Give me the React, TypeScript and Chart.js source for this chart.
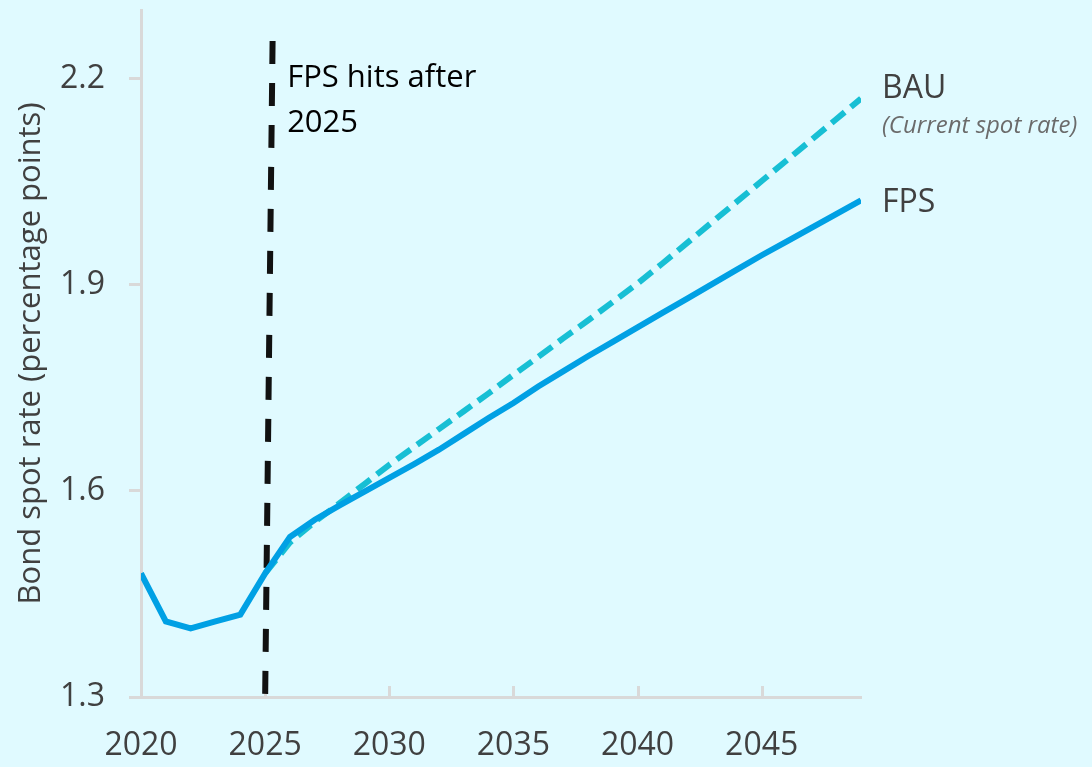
import { useEffect, useRef } from "react";
import { Chart, registerables } from "chart.js";

Chart.register(...registerables);

// ---- data ----
const years = [
  2020, 2021, 2022, 2023, 2024, 2025, 2026, 2027, 2028, 2029,
  2030, 2031, 2032, 2033, 2034, 2035, 2036, 2037, 2038, 2039,
  2040, 2041, 2042, 2043, 2044, 2045, 2046, 2047, 2048, 2049,
];
const fpsValues = [
  1.48, 1.41, 1.40, 1.41, 1.42, 1.48, 1.533, 1.558, 1.579, 1.599,
  1.619, 1.639, 1.66, 1.683, 1.706, 1.728, 1.752, 1.774, 1.796, 1.817,
  1.838, 1.859, 1.88, 1.901, 1.922, 1.943, 1.963, 1.983, 2.003, 2.023,
];
const bauValues = [
  null, null, null, null, null, 1.48, 1.525, 1.555, 1.582, 1.61,
  1.638, 1.664, 1.69, 1.716, 1.742, 1.769, 1.795, 1.822, 1.848, 1.875,
  1.902, 1.931, 1.961, 1.991, 2.021, 2.051, 2.081, 2.111, 2.141, 2.171,
];
const yTicks = [1.3, 1.6, 1.9, 2.2];
const xTicks = [2020, 2025, 2030, 2035, 2040, 2045];
const xRange = [2020, 2049];
const yRange = [1.3, 2.3];
const markerYear = 2025;
const markerTopValue = 2.255;
const markerLean = 0.3;
const markerText = ["FPS hits after", "2025"];
const yTitle = "Bond spot rate (percentage points)";
const bauLabel = "BAU";
const bauSubLabel = "(Current spot rate)";
const fpsLabel = "FPS";

const BG = "#E0FAFF";
const AXIS = "#D9D9D9";
const TEXT = "#404040";
const FPS_COLOR = "#00A0E4";
const BAU_COLOR = "#17BFD4";
const FONT = "'Open Sans', sans-serif";

export default function App() {
  const ref = useRef<HTMLCanvasElement | null>(null);

  useEffect(() => {
    if (!ref.current) return;

    const overlay = {
      id: "overlay",
      beforeDatasetsDraw(chart: any) {
        const { ctx, chartArea, scales } = chart;
        const x = scales.x;
        const y = scales.y;
        const xb = x.getPixelForValue(markerYear);
        const xt = x.getPixelForValue(markerYear + markerLean);
        const yt = y.getPixelForValue(markerTopValue);
        ctx.save();
        // inward x tick marks
        ctx.strokeStyle = AXIS;
        ctx.lineWidth = 3;
        for (const t of xTicks) {
          if (t === xRange[0]) continue;
          const px = Math.round(x.getPixelForValue(t)) + 0.5;
          ctx.beginPath();
          ctx.moveTo(px, chartArea.bottom);
          ctx.lineTo(px, chartArea.bottom - 11);
          ctx.stroke();
        }
        // vertical dashed marker
        ctx.strokeStyle = "#111111";
        ctx.lineWidth = 6;
        ctx.setLineDash([23, 19]);
        ctx.beginPath();
        ctx.moveTo(xt, yt);
        ctx.lineTo(xb, chartArea.bottom);
        ctx.stroke();
        ctx.restore();
      },
      afterDraw(chart: any) {
        const { ctx, chartArea, scales } = chart;
        const x = scales.x;
        const y = scales.y;
        ctx.save();
        // marker text
        ctx.fillStyle = "#000000";
        ctx.font = `31px ${FONT}`;
        ctx.textAlign = "left";
        ctx.textBaseline = "alphabetic";
        const tx = x.getPixelForValue(markerYear) + 22;
        ctx.fillText(markerText[0], tx, chartArea.top + 77);
        ctx.fillText(markerText[1], tx, chartArea.top + 122);
        // right labels
        const lx = chartArea.right + 21;
        const bauY = y.getPixelForValue(bauValues[bauValues.length - 1] as number);
        const fpsY = y.getPixelForValue(fpsValues[fpsValues.length - 1]);
        ctx.fillStyle = TEXT;
        ctx.font = `32px ${FONT}`;
        ctx.fillText(bauLabel, lx, bauY - 1);
        ctx.fillText(fpsLabel, lx, fpsY + 12);
        ctx.fillStyle = "#6B6B6B";
        ctx.font = `italic 24px ${FONT}`;
        ctx.fillText(bauSubLabel, lx, bauY + 34);
        ctx.restore();
      },
    };

    const chart = new Chart(ref.current, {
      type: "line",
      data: {
        labels: years,
        datasets: [
          {
            label: "FPS",
            data: years.map((yr, i) => ({ x: yr, y: fpsValues[i] })),
            borderColor: FPS_COLOR,
            borderWidth: 6,
            pointRadius: 0,
            tension: 0,
            order: 0,
          },
          {
            label: "BAU",
            data: years.map((yr, i) => ({ x: yr, y: bauValues[i] })),
            borderColor: BAU_COLOR,
            borderWidth: 6,
            borderDash: [17, 8],
            pointRadius: 0,
            tension: 0,
            spanGaps: false,
            order: 1,
          },
        ],
      },
      options: {
        animation: false,
        responsive: false,
        layout: { padding: { top: 10, right: 231, left: 0, bottom: 0 } },
        plugins: {
          legend: { display: false },
          tooltip: { enabled: false },
        },
        scales: {
          x: {
            type: "linear",
            min: xRange[0],
            max: xRange[1],
            afterBuildTicks: (s: any) => {
              s.ticks = xTicks.map((v) => ({ value: v }));
            },
            afterFit: (s: any) => {
              s.height = 70;
              s.paddingLeft = 0;
              s.paddingRight = 0;
            },
            grid: { display: false, drawTicks: false },
            border: { display: true, color: AXIS, width: 3 },
            ticks: {
              autoSkip: false,
              maxRotation: 0,
              padding: 30,
              color: TEXT,
              font: { family: FONT, size: 32 },
              callback: (v: any) => String(v),
            },
          },
          y: {
            type: "linear",
            min: yRange[0],
            max: yRange[1],
            afterBuildTicks: (s: any) => {
              s.ticks = yTicks.map((v) => ({ value: v }));
            },
            afterFit: (s: any) => {
              s.width = 141;
              s.paddingTop = 0;
              s.paddingBottom = 0;
            },
            grid: {
              display: true,
              drawOnChartArea: false,
              drawTicks: true,
              tickLength: 12,
              color: AXIS,
              lineWidth: 3,
            },
            border: { display: true, color: AXIS, width: 3 },
            ticks: {
              padding: 24,
              color: TEXT,
              font: { family: FONT, size: 32 },
              callback: (v: any) => Number(v).toFixed(1),
            },
            title: {
              display: true,
              text: yTitle,
              color: TEXT,
              font: { family: FONT, size: 31 },
              padding: { top: 13, bottom: 0 },
            },
          },
        },
      },
      plugins: [overlay],
    } as any);

    return () => chart.destroy();
  }, []);

  return (
    <div
      style={{
        position: "fixed",
        left: 0,
        top: 0,
        width: 1092,
        height: 767,
        background: BG,
      }}
    >
      <canvas ref={ref} width={1092} height={767} style={{ display: "block" }} />
    </div>
  );
}
